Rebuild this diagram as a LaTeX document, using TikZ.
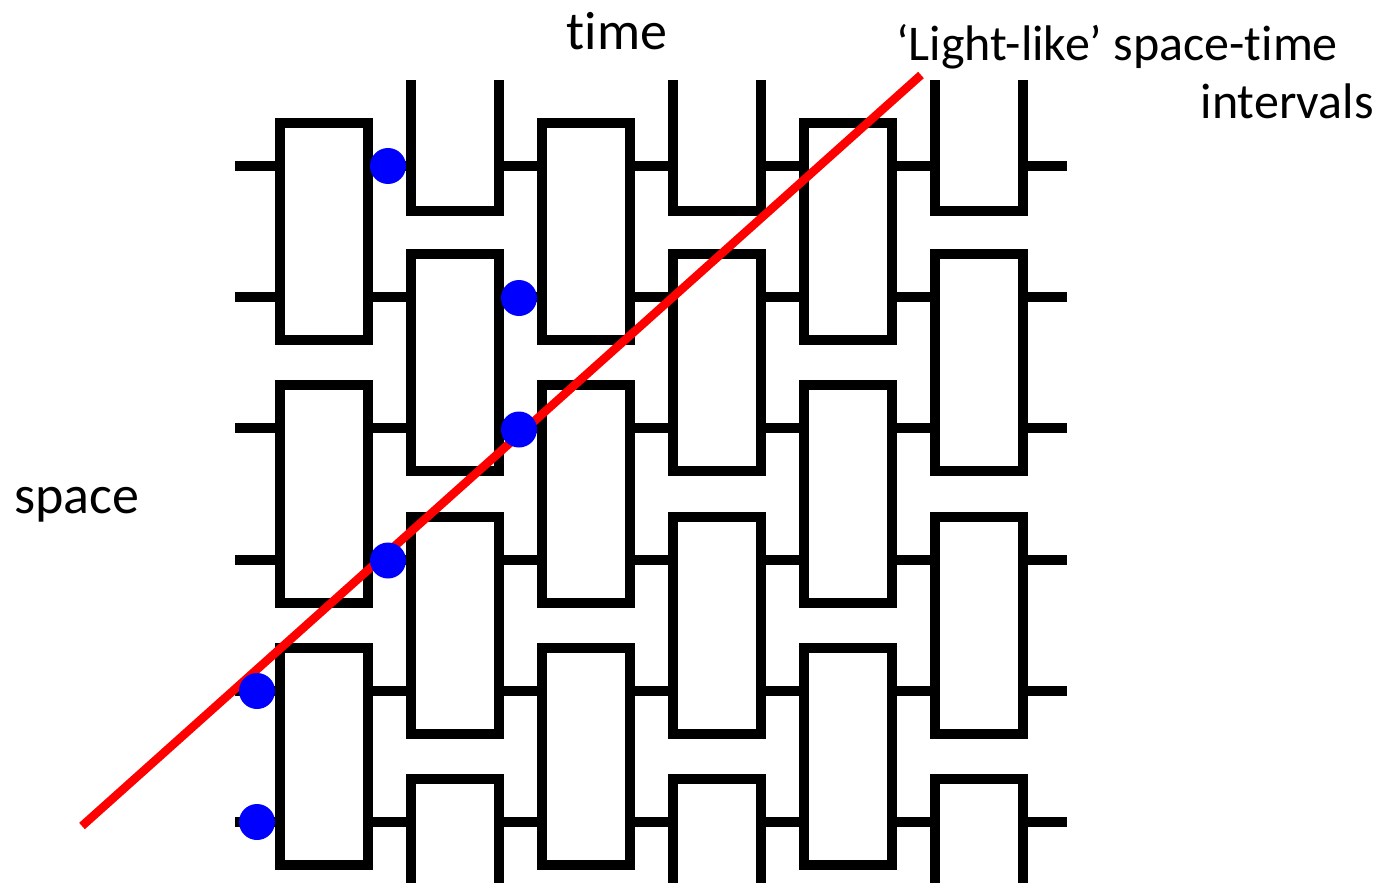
\documentclass[tikz,border=0pt]{standalone}
\usepackage{fontspec}
\setmainfont{Carlito}[Ligatures=CommonOff]
\begin{document}
\begin{tikzpicture}[x=1pt,y=-1pt,
  wire/.style={line width=10pt,line cap=butt,line join=miter},
  gate/.style={line width=10pt,line join=miter},
  qdot/.style={fill=blue,draw=none},
  light/.style={draw=red,line width=8.5pt},
  lbl/.style={inner sep=0pt,font=\fontsize{54}{64}\selectfont},
  lbls/.style={inner sep=0pt,font=\fontsize{50}{60}\selectfont}]
\useasboundingbox[fill=white] (0,0) rectangle (1384,883);
% wires
\foreach \i in {0,...,5}{
  \pgfmathsetmacro{\wy}{166+131.2*\i}
  \draw[wire] (235,\wy) -- (279.5,\wy);
  \foreach \k in {0,...,5}{
    \pgfmathsetmacro{\xa}{279.5+131.1*\k+88}
    \pgfmathsetmacro{\xb}{\xa+43.1+(\k==5?1:0)*(1067-\xa-43.1)}
    \draw[wire] (\xa,\wy) -- (\xb,\wy);
  }
}
% odd columns: closed rectangles
\foreach \k in {0,2,4}{
  \pgfmathsetmacro{\xl}{279.5+131.1*\k}
  \pgfmathsetmacro{\xr}{\xl+88}
  \foreach \j in {0,2,4}{
    \pgfmathsetmacro{\yt}{166+131.2*\j-43}
    \pgfmathsetmacro{\yb}{166+131.2*(\j+1)+43}
    \draw[gate] (\xl,\yt) rectangle (\xr,\yb);
  }
}
% even columns
\foreach \k in {1,3,5}{
  \pgfmathsetmacro{\xl}{279.5+131.1*\k}
  \pgfmathsetmacro{\xr}{\xl+88}
  \draw[gate] (\xl,80) -- (\xl,210.5) -- (\xr,210.5) -- (\xr,80);
  \foreach \j in {1,3}{
    \pgfmathsetmacro{\yt}{166+131.2*\j-43}
    \pgfmathsetmacro{\yb}{166+131.2*(\j+1)+43}
    \draw[gate] (\xl,\yt) rectangle (\xr,\yb);
  }
  \draw[gate] (\xl,890) -- (\xl,778.5) -- (\xr,778.5) -- (\xr,890);
}
% light-like line
\coordinate (la) at (82,826);
\coordinate (lb) at (921,75);
\draw[light] (la) -- (lb);
% dots
\foreach \px/\py in {388/166,519/298,519/429.5,388/560.5,257/691,257/822}{
  \fill[qdot] (\px,\py) circle (18);
}
% labels
\node[lbl,anchor=base] (time) at (617,49) {time};
\node[lbl,anchor=base west] (space) at (14,513) {space};
\node[lbls,anchor=base west] (ll) at (896,60) {‘Light-like’ space-time};
\node[lbls,anchor=base east] (iv) at (1374,118) {intervals};
\end{tikzpicture}
\end{document}
